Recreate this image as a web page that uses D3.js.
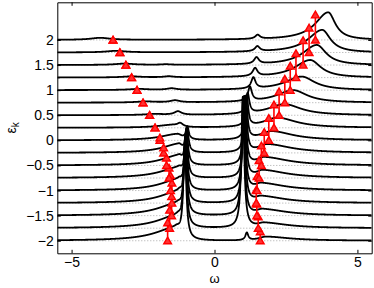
<!DOCTYPE html>
<html>
<head>
<meta charset="utf-8">
<script src="https://cdn.jsdelivr.net/npm/d3@7"></script>
<style>
body { margin: 0; background: #fff; }
text { font-family: "Liberation Sans", Arial, sans-serif; }
</style>
</head>
<body>
<div id="chart"></div>
<script>
// one curve per band energy (bottom to top)
var eps = [-2, -1.75, -1.5, -1.25, -1, -0.75, -0.5, -0.25, 0, 0.25, 0.5, 0.75, 1, 1.25, 1.5, 1.75, 2];

// sharp peak near omega = -1
var lsPos = [-1.04, -1.03, -1.02, -1.01, -1.00, -0.99, -0.98, -0.96, -0.95, -1.20, -1.28, -1.38, -1.50, -1.60, -1.70, -1.80, -1.90];
var lsH   = [1.90, 1.70, 1.50, 1.30, 1.10, 0.90, 0.70, 0.48, 0.25, 0.07, 0.07, 0.04, 0.03, 0.02, 0.01, 0, 0];
var lsW   = [0.06, 0.06, 0.06, 0.06, 0.06, 0.06, 0.06, 0.06, 0.06, 0.12, 0.15, 0.2, 0.2, 0.2, 0.2, 0.2, 0.2];

// sharp peak near omega = +1
var rsPos = [1.13, 0.99, 1.00, 1.02, 1.03, 1.05, 1.06, 1.08, 1.10, 1.13, 1.16, 1.24, 1.36, 1.42, 1.47, 1.50, 1.51];
var rsH   = [0.15, 2.60, 2.35, 2.10, 1.85, 1.60, 1.35, 1.10, 0.85, 0.60, 0.40, 0.28, 0.22, 0.16, 0.13, 0.10, 0.08];
var rsW   = [0.06, 0.06, 0.06, 0.06, 0.06, 0.06, 0.06, 0.06, 0.06, 0.06, 0.07, 0.08, 0.09, 0.1, 0.1, 0.1, 0.1];

// broad lower hump (left)
var l1Pos = [-1.35, -1.30, -1.30, -1.25, -1.25, -1.25, -1.25, -1.25, -1.30, -1.50, -2.10, -2.40, -2.65, -2.90, -3.15, -3.45, -4.00];
var l1H   = [0.25, 0.24, 0.23, 0.22, 0.21, 0.20, 0.19, 0.17, 0.12, 0.05, 0.02, 0.02, 0.02, 0.02, 0.025, 0.03, 0.04];
var l1Wl  = [0.9, 0.85, 0.85, 0.8, 0.8, 0.8, 0.75, 0.7, 0.7, 0.6, 0.4, 0.4, 0.4, 0.4, 0.4, 0.4, 0.4];
var l1Wr  = [0.2, 0.2, 0.2, 0.15, 0.15, 0.15, 0.15, 0.15, 0.2, 0.3, 0.4, 0.4, 0.4, 0.4, 0.4, 0.4, 0.4];

// broad upper hump (right)
var r1Pos = [1.80, 1.75, 1.70, 1.65, 1.65, 1.70, 1.75, 1.85, 2.00, 2.20, 2.45, 2.75, 3.05, 3.35, 3.58, 3.77, 3.98];
var r1H   = [0.08, 0.10, 0.12, 0.13, 0.14, 0.15, 0.16, 0.17, 0.18, 0.20, 0.22, 0.25, 0.27, 0.35, 0.40, 0.45, 0.55];
var r1Wl  = [0.3, 0.3, 0.3, 0.3, 0.3, 0.3, 0.35, 0.4, 0.5, 0.6, 0.7, 0.7, 0.7, 0.65, 0.6, 0.6, 0.55];
var r1Wr  = [1.0, 1.0, 1.0, 1.0, 1.0, 1.0, 1.0, 1.0, 0.9, 0.8, 0.7, 0.6, 0.55, 0.45, 0.4, 0.35, 0.3];

// red markers: position and length of each marker pair
var redLw = [-1.64, -1.57, -1.50, -1.49, -1.54, -1.59, -1.68, -1.78, -1.91, -2.08, -2.27, -2.50, -2.71, -2.90, -3.10, -3.31, -3.55];
var redLd = [0.36, 0.36, 0.38, 0.40, 0.30, 0.20, 0.15, 0.10, 0.05, 0, 0, 0, 0, 0, 0, 0, 0];
var redRw = [1.60, 1.53, 1.48, 1.46, 1.49, 1.56, 1.64, 1.74, 1.90, 2.08, 2.26, 2.46, 2.65, 2.85, 3.10, 3.31, 3.53];
var redRd = [0.18, 0.23, 0.23, 0.26, 0.28, 0.35, 0.39, 0.41, 0.44, 0.46, 0.47, 0.47, 0.48, 0.48, 0.49, 0.49, 0.50];

var xTicks = [-5, 0, 5];
var yTicks = [-2, -1.5, -1, -0.5, 0, 0.5, 1, 1.5, 2];

var margin = { top: 2.3, right: 2.3, bottom: 34.7, left: 57.3 };
var width = 374 - margin.left - margin.right,
    height = 288 - margin.top - margin.bottom;

var svg = d3.select("#chart").append("svg")
    .attr("width", 374)
    .attr("height", 288)
    .append("g")
    .attr("transform", "translate(" + margin.left + "," + margin.top + ")");

var x = d3.scaleLinear().domain([-5.5, 5.5]).range([0, width]);
var y = d3.scaleLinear().domain([-2.25, 2.75]).range([height, 0]);

svg.append("clipPath").attr("id", "clip")
    .append("rect").attr("width", width).attr("height", height);

function lor(w, p, h, gl, gr) {
    var g = w < p ? gl : gr;
    return h * g * g / ((w - p) * (w - p) + g * g);
}

var omega = d3.range(-5.5, 5.5001, 0.004);

var curves = eps.map(function(e, i) {
    return omega.map(function(w) {
        var a = lor(w, lsPos[i], lsH[i], lsW[i], lsW[i])
            + lor(w, rsPos[i], rsH[i], rsW[i], rsW[i])
            + lor(w, l1Pos[i], l1H[i], l1Wl[i], l1Wr[i])
            + lor(w, r1Pos[i], r1H[i], r1Wl[i], r1Wr[i]);
        return [w, e + a];
    });
});

var plot = svg.append("g").attr("clip-path", "url(#clip)");

// dotted baselines
plot.selectAll(".base")
    .data(eps)
    .enter()
    .append("line")
    .attr("x1", 0).attr("x2", width)
    .attr("y1", function(d) { return y(d); })
    .attr("y2", function(d) { return y(d); })
    .attr("stroke", "#a8a8a8")
    .attr("stroke-width", 1)
    .attr("stroke-dasharray", "1,2");

var line = d3.line()
    .x(function(d) { return x(d[0]); })
    .y(function(d) { return y(d[1]); });

plot.selectAll(".curve")
    .data(curves)
    .enter()
    .append("path")
    .attr("d", line)
    .attr("fill", "none")
    .attr("stroke", "#000")
    .attr("stroke-width", 1.8)
    .attr("stroke-linejoin", "round");

// red marker pairs
var pairs = [];
eps.forEach(function(e, i) {
    pairs.push({ w: redLw[i], lo: e, hi: e + redLd[i] });
    pairs.push({ w: redRw[i], lo: e, hi: e + redRd[i] });
});

plot.selectAll(".stem")
    .data(pairs)
    .enter()
    .append("line")
    .attr("x1", function(d) { return x(d.w); })
    .attr("x2", function(d) { return x(d.w); })
    .attr("y1", function(d) { return y(d.lo); })
    .attr("y2", function(d) { return y(d.hi); })
    .attr("stroke", "#ff0000")
    .attr("stroke-width", 1.6);

var pts = [];
pairs.forEach(function(d) {
    pts.push([d.w, d.lo]);
    pts.push([d.w, d.hi]);
});

var tri = d3.symbol().type(d3.symbolTriangle).size(26);
plot.selectAll(".tri")
    .data(pts)
    .enter()
    .append("path")
    .attr("d", tri)
    .attr("transform", function(d) { return "translate(" + x(d[0]) + "," + (y(d[1]) + 0.8) + ")"; })
    .attr("fill", "#ff3030")
    .attr("stroke", "#ff0000")
    .attr("stroke-width", 1.4)
    .attr("stroke-linejoin", "miter");

// axes (box with inward ticks)
function styleAxis(g) {
    g.attr("font-size", 14).attr("font-family", "Liberation Sans, Arial, sans-serif");
    g.selectAll("path, line").attr("stroke", "#000");
}

svg.append("g")
    .attr("transform", "translate(0," + height + ")")
    .call(d3.axisBottom(x).tickValues(xTicks).tickSizeInner(-3.5).tickSizeOuter(0).tickPadding(4).tickFormat(d3.format("")))
    .call(styleAxis);

svg.append("g")
    .call(d3.axisTop(x).tickValues(xTicks).tickSizeInner(-3.5).tickSizeOuter(0).tickFormat(""))
    .call(styleAxis);

svg.append("g")
    .call(d3.axisLeft(y).tickValues(yTicks).tickSizeInner(-3.5).tickSizeOuter(0).tickPadding(3.5).tickFormat(d3.format("")))
    .call(styleAxis);

svg.append("g")
    .attr("transform", "translate(" + width + ",0)")
    .call(d3.axisRight(y).tickValues(yTicks).tickSizeInner(-3.5).tickSizeOuter(0).tickFormat(""))
    .call(styleAxis);

// axis labels
svg.append("text")
    .attr("x", width / 2)
    .attr("y", height + 29.3)
    .attr("text-anchor", "middle")
    .attr("font-size", 13)
    .text("ω");

var yl = svg.append("text")
    .attr("transform", "translate(" + (-41) + "," + (height / 2) + ") rotate(-90)")
    .attr("text-anchor", "middle")
    .attr("font-size", 14);
yl.append("tspan").text("ε");
yl.append("tspan").attr("font-size", 10).attr("dy", 3).text("k");
</script>
</body>
</html>
